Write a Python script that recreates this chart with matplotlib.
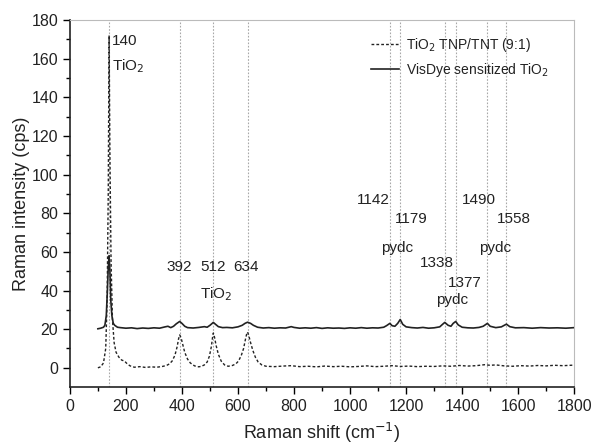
import matplotlib.pyplot as plt
import numpy as np

plt.rcParams['font.family'] = ['Liberation Sans', 'DejaVu Sans']

# VisDye sensitized TiO2 (solid)
dye_x = [100, 110, 120, 125, 130, 134, 137, 140, 143, 146, 150, 155, 160, 170, 180, 200, 220, 240, 260,
         280, 300, 320, 340, 350, 360, 370, 380, 392, 400, 410, 420, 440, 460, 480, 490, 500, 512, 520,
         530, 545, 560, 580, 600, 615, 625, 634, 645, 655, 670, 690, 710, 730, 750, 770, 790, 800, 820,
         840, 860, 880, 900, 920, 940, 960, 980, 1000, 1020, 1040, 1060, 1080, 1100, 1120, 1130, 1142,
         1150, 1160, 1170, 1179, 1188, 1200, 1220, 1240, 1260, 1280, 1300, 1320, 1330, 1338, 1350, 1360,
         1368, 1377, 1386, 1400, 1420, 1440, 1460, 1475, 1490, 1500, 1520, 1540, 1558, 1570, 1590, 1620,
         1650, 1680, 1710, 1740, 1770, 1800]
dye_y = [20.2, 20.5, 21.0, 22.0, 27.0, 40.0, 52.0, 58.0, 50.0, 35.0, 27.0, 23.0, 22.0, 21.0, 20.8, 20.5,
         20.7, 20.3, 20.6, 20.4, 20.7, 20.5, 21.2, 21.5, 20.8, 21.5, 22.8, 24.0, 23.0, 21.5, 20.8, 20.6,
         20.9, 21.3, 21.0, 22.0, 23.5, 22.5, 21.3, 20.8, 20.9, 20.7, 21.2, 22.0, 23.0, 23.6, 23.0, 22.0,
         21.0, 20.6, 20.8, 20.5, 20.7, 20.6, 21.3, 20.9, 20.5, 20.7, 20.5, 20.8, 20.4, 20.7, 20.5, 20.6,
         20.4, 20.7, 20.5, 20.8, 20.5, 20.7, 20.6, 21.0, 21.8, 23.0, 21.8, 21.5, 23.0, 25.0, 22.5, 21.2,
         20.8, 20.6, 20.9, 20.5, 20.7, 21.2, 22.5, 23.5, 22.0, 21.5, 23.0, 24.0, 22.2, 21.0, 20.7, 20.6,
         20.9, 21.5, 23.0, 21.5, 20.8, 21.2, 22.6, 21.3, 20.7, 20.8, 20.5, 20.8, 20.6, 20.7, 20.5, 20.8]

# TiO2 TNP/TNT (9:1) (dashed)
tio_x = [100, 110, 120, 128, 133, 137, 140, 143, 147, 152, 158, 165, 175, 185, 195, 205, 215, 230, 250,
         270, 290, 310, 330, 345, 355, 365, 375, 383, 388, 392, 397, 403, 410, 420, 430, 445, 460, 470,
         480, 490, 498, 505, 509, 512, 516, 522, 530, 540, 552, 565, 580, 592, 602, 612, 620, 627, 631,
         634, 638, 645, 653, 662, 672, 685, 700, 730, 760, 790, 820, 850, 880, 910, 940, 970, 1000, 1030,
         1060, 1090, 1120, 1150, 1180, 1210, 1240, 1270, 1300, 1330, 1360, 1390, 1420, 1450, 1480, 1500,
         1520, 1550, 1580, 1610, 1640, 1670, 1700, 1730, 1760, 1800]
tio_y = [0.0, 0.5, 2.5, 10.0, 35.0, 90.0, 172.0, 110.0, 55.0, 25.0, 13.0, 8.0, 5.5, 4.0, 3.5, 2.0, 1.0,
         0.3, 0.6, 0.2, 0.5, 0.3, 0.7, 1.2, 2.0, 3.5, 6.5, 11.0, 15.0, 17.0, 15.5, 12.0, 8.0, 4.5, 2.5,
         1.0, 0.5, 0.8, 1.5, 3.0, 6.0, 11.0, 15.5, 18.0, 16.0, 11.5, 7.0, 3.5, 1.5, 0.8, 1.2, 2.0, 3.5,
         6.5, 10.0, 15.0, 17.5, 18.5, 17.0, 13.0, 9.0, 5.5, 3.0, 1.5, 0.8, 0.6, 0.9, 1.1, 0.6, 0.8, 0.5,
         0.9, 0.6, 0.8, 0.5, 0.7, 1.0, 0.6, 0.8, 1.1, 0.7, 0.9, 0.6, 0.8, 0.7, 1.0, 0.8, 1.2, 0.9, 1.1,
         1.6, 1.3, 1.5, 1.0, 0.8, 1.1, 0.9, 1.2, 1.0, 1.3, 1.1, 1.4]

peak_lines = [140, 392, 512, 634, 1142, 1179, 1338, 1377, 1490, 1558]

# label text, x, y, alignment
labels = [
    ('140', 150, 169, 'left'),
    ('TiO$_2$', 150, 156, 'left'),
    ('392', 392, 52, 'center'),
    ('512', 512, 52, 'center'),
    ('634', 630, 52, 'center'),
    ('TiO$_2$', 522, 38, 'center'),
    ('1142', 1142, 87, 'right'),
    ('1179', 1218, 77, 'center'),
    ('pydc', 1167, 62, 'center'),
    ('1338', 1308, 54, 'center'),
    ('1377', 1410, 44, 'center'),
    ('pydc', 1364, 35, 'center'),
    ('1490', 1460, 87, 'center'),
    ('1558', 1586, 77, 'center'),
    ('pydc', 1518, 62, 'center'),
]

fig = plt.figure(figsize=(5.92, 4.46), dpi=100)
ax = fig.add_axes([0.118, 0.132, 0.852, 0.823])

for p in peak_lines:
    ax.axvline(p, color='#a8a8a8', linestyle=(0, (1.5, 1.5)), linewidth=0.8, zorder=1)

ax.plot(tio_x, tio_y, color='#222222', linestyle=(0, (2, 1.5)), linewidth=1.0,
        label='TiO$_2$ TNP/TNT (9:1)', zorder=3)
ax.plot(dye_x, dye_y, color='#222222', linewidth=1.2,
        label='VisDye sensitized TiO$_2$', zorder=3)

for txt, x, y, ha in labels:
    ax.text(x, y, txt, ha=ha, va='center', fontsize=11, color='#222222')

ax.set_xlim(0, 1800)
ax.set_ylim(-10, 180)
ax.set_xticks(np.arange(0, 1801, 200))
ax.set_xticks(np.arange(100, 1800, 200), minor=True)
ax.set_yticks(np.arange(0, 181, 20))
ax.set_yticks(np.arange(10, 180, 20), minor=True)
ax.tick_params(which='both', direction='out', top=False, right=False,
               labelsize=11.5, labelcolor='#222222')
ax.tick_params(which='major', length=5, width=1)
ax.tick_params(which='minor', length=3, width=1)

for s in ['top', 'right']:
    ax.spines[s].set_color('#bbbbbb')
for s in ['left', 'bottom']:
    ax.spines[s].set_linewidth(1.2)
    ax.spines[s].set_color('#222222')

ax.set_xlabel('Raman shift (cm$^{-1}$)', fontsize=13, color='#222222', labelpad=5)
ax.set_ylabel('Raman intensity (cps)', fontsize=13, color='#222222', labelpad=1)

ax.legend(loc='upper right', bbox_to_anchor=(0.975, 0.99), frameon=False, fontsize=10,
          handlelength=2.0, handletextpad=0.5, labelspacing=0.5, labelcolor='#222222')

fig.savefig('out.png', dpi=100)
